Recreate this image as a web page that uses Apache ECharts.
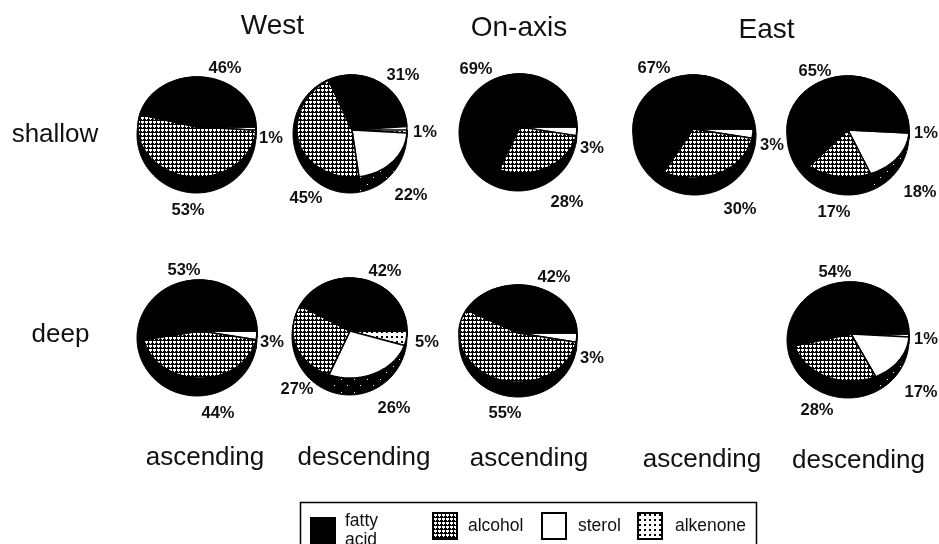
<!DOCTYPE html>
<html>
<head>
<meta charset="utf-8">
<style>html,body{margin:0;padding:0;background:#fff}#chart{width:939px;height:544px}</style>
<script src="https://cdn.jsdelivr.net/npm/echarts@6/dist/echarts.min.js"></script>
</head>
<body>
<div id="chart"></div>
<script>
// Lipid class composition (percent), one entry per sampled site.
const sites = ['West shallow ascending', 'West shallow descending', 'On-axis shallow ascending',
  'East shallow ascending', 'East shallow descending', 'West deep ascending',
  'West deep descending', 'On-axis deep ascending', 'East deep descending'];
const fattyAcid = [46, 31, 69, 67, 65, 53, 42, 42, 54];
const alkenone  = [0, 1, 0, 0, 1, 0, 5, 0, 1];
const sterol    = [1, 22, 3, 3, 18, 3, 26, 3, 17];
const alcohol   = [53, 45, 28, 30, 17, 44, 27, 55, 28];

// Tilted disc layout: the top face as [cx, cy, rx, back ry, front ry] ...
const faces = [[197, 127, 59, 50, 50], [352, 130, 55, 55, 47], [520, 127, 57, 53, 46],
  [693, 129, 60, 54, 49], [848, 130, 61, 54, 47], [200, 331, 57, 51, 47],
  [350, 331, 57, 53, 47], [518, 333, 59, 48, 49], [851, 334, 58, 52, 47]];
// ... and the whole silhouette with its wall as [left, right, top, bottom].
const outlines = [[137, 256, 77, 193], [293, 407, 75, 193], [459, 577, 74, 191],
  [633, 756, 75, 195], [787, 909, 76, 195], [137, 257, 280, 396],
  [292, 407, 278, 395], [459, 577, 285, 397], [787, 909, 282, 398]];
const FIRST_ANGLE = 90;

// Hand-placed percent labels for each class at each site.
const fattySpots = [[225, 68], [403, 75], [476, 69], [654, 68], [815, 71], [184, 270], [385, 271], [554, 277], [835, 272]];
const alkenoneSpots = [null, [425, 132], null, null, [926, 133], null, [427, 342], null, [926, 339]];
const sterolSpots = [[271, 138], [411, 195], [592, 148], [772, 145], [920, 192], [272, 342], [394, 408], [592, 358], [921, 392]];
const alcoholSpots = [[188, 210], [306, 198], [567, 202], [740, 209], [834, 212], [218, 413], [297, 389], [505, 413], [817, 410]];

function tile(size, paint) {
  const c = document.createElement('canvas');
  c.width = c.height = size;
  paint(c.getContext('2d'));
  return { image: c, repeat: 'repeat' };
}
const alcoholFill = tile(4, g => {
  g.fillStyle = '#000'; g.fillRect(0, 0, 4, 4);
  g.fillStyle = '#fff'; g.fillRect(1, 1, 3, 2); g.fillRect(2, 3, 1, 1);
});
const alkenoneFill = tile(5, g => {
  g.fillStyle = '#fff'; g.fillRect(0, 0, 5, 5);
  g.fillStyle = '#000'; g.fillRect(1, 1, 2, 2);
});
const speckledRim = tile(13, g => {
  g.fillStyle = '#000'; g.fillRect(0, 0, 13, 13);
  g.fillStyle = '#fff'; g.fillRect(3, 2, 1, 1); g.fillRect(9, 8, 1, 1);
});

// Clockwise order round the disc, beginning at three o'clock.
const classes = [
  { name: 'alkenone', values: alkenone, spots: alkenoneSpots, fill: alkenoneFill, rim: '#000' },
  { name: 'sterol', values: sterol, spots: sterolSpots, fill: '#fff', rim: speckledRim },
  { name: 'alcohol', values: alcohol, spots: alcoholSpots, fill: alcoholFill, rim: '#000' },
  { name: 'fatty acid', values: fattyAcid, spots: fattySpots, fill: '#000', rim: '#000' }
];

function startOf(classIndex, site) {
  let sum = 0;
  for (let k = 0; k < classIndex; k++) sum += classes[k].values[site];
  return FIRST_ANGLE + sum * 3.6;
}
function facePoint(f, deg) {
  const a = deg * Math.PI / 180, cos = Math.cos(a);
  return [f[0] + f[2] * Math.sin(a), f[1] - (cos > 0 ? f[3] : f[4]) * cos];
}
function outlinePoint(o, deg) {
  const a = deg * Math.PI / 180;
  return [(o[0] + o[1]) / 2 + (o[1] - o[0]) / 2 * Math.sin(a),
          (o[2] + o[3]) / 2 - (o[3] - o[2]) / 2 * Math.cos(a)];
}
function sweep(from, to, pointAt) {
  const pts = [];
  for (let d = from; d < to; d += 2) pts.push(pointAt(d));
  pts.push(pointAt(to));
  return pts;
}

function renderSlice(classIndex) {
  return function (params, api) {
    const site = api.value(0), value = api.value(1);
    const cls = classes[classIndex];
    if (!value) return { type: 'group', children: [] };
    const f = faces[site], o = outlines[site];
    const from = startOf(classIndex, site), to = from + value * 3.6;
    const children = [];

    // Wall of the disc outside this slice.
    const inner = sweep(from, to, d => facePoint(f, d));
    const outer = sweep(from, to, d => outlinePoint(o, d)).reverse();
    children.push({ type: 'polygon', shape: { points: inner.concat(outer) },
      style: { fill: cls.rim, stroke: '#000', lineWidth: 1 } });

    // Top face of the slice.
    children.push({ type: 'polygon', shape: { points: [[f[0], f[1]]].concat(inner) },
      style: { fill: cls.fill, stroke: '#000', lineWidth: 1.5, lineJoin: 'round' } });

    const spot = cls.spots[site];
    if (spot) {
      children.push({ type: 'text', z2: 10, style: {
        x: spot[0], y: spot[1], text: value + '%', fill: '#111',
        font: 'bold 16.5px "Liberation Sans", Arial, sans-serif', align: 'center', verticalAlign: 'middle'
      } });
    }
    return { type: 'group', children };
  };
}

const headers = [['West', 272.5, 26], ['On-axis', 519, 28], ['East', 766.5, 30]];
const rows = [['shallow', 55, 135], ['deep', 60.5, 335]];
const columns = [['ascending', 205, 458], ['descending', 364, 458], ['ascending', 529, 459],
  ['ascending', 702, 460], ['descending', 858.5, 461]];
const legendSpots = [
  { name: 'fatty acid', left: 310, gap: 5 }, { name: 'alcohol', left: 432, gap: 6 },
  { name: 'sterol', left: 541, gap: 7 }, { name: 'alkenone', left: 637, gap: 8 }
];

function caption(entry, size) {
  return { type: 'text', x: entry[1], y: entry[2], style: {
    text: entry[0], fill: '#111', align: 'center', verticalAlign: 'middle',
    font: size + 'px "Liberation Sans", Arial, sans-serif'
  } };
}

const chart = echarts.init(document.getElementById('chart'), null, { renderer: 'canvas' });
chart.setOption({
  animation: false,
  backgroundColor: '#fff',
  graphic: [
    ...headers.map(h => caption(h, 28)),
    ...rows.map(r => caption(r, 26)),
    ...columns.map(r => caption(r, 26)),
    { type: 'rect', shape: { x: 300.5, y: 502.5, width: 456, height: 60 },
      style: { fill: 'transparent', stroke: '#000', lineWidth: 1.5 } }
  ],
  legend: legendSpots.map(s => ({
    data: [{ name: s.name, icon: 'rect' }], left: s.left, top: 512, orient: 'horizontal', selectedMode: false,
    itemWidth: 24, itemHeight: 26, padding: 0,
    formatter: n => n === 'fatty acid' ? 'fatty\nacid' : n,
    textStyle: { fontFamily: '"Liberation Sans", Arial, sans-serif', fontSize: 17.5, color: '#111',
      lineHeight: 19, padding: [0, 0, 0, s.gap] }
  })),
  series: classes.map((cls, i) => ({
    type: 'custom',
    name: cls.name,
    coordinateSystem: 'none',
    silent: true,
    itemStyle: { color: cls.fill, borderColor: '#000', borderWidth: 1.5 },
    data: cls.values.map((v, site) => [site, v]),
    renderItem: renderSlice(i)
  }))
});
</script>
</body>
</html>
